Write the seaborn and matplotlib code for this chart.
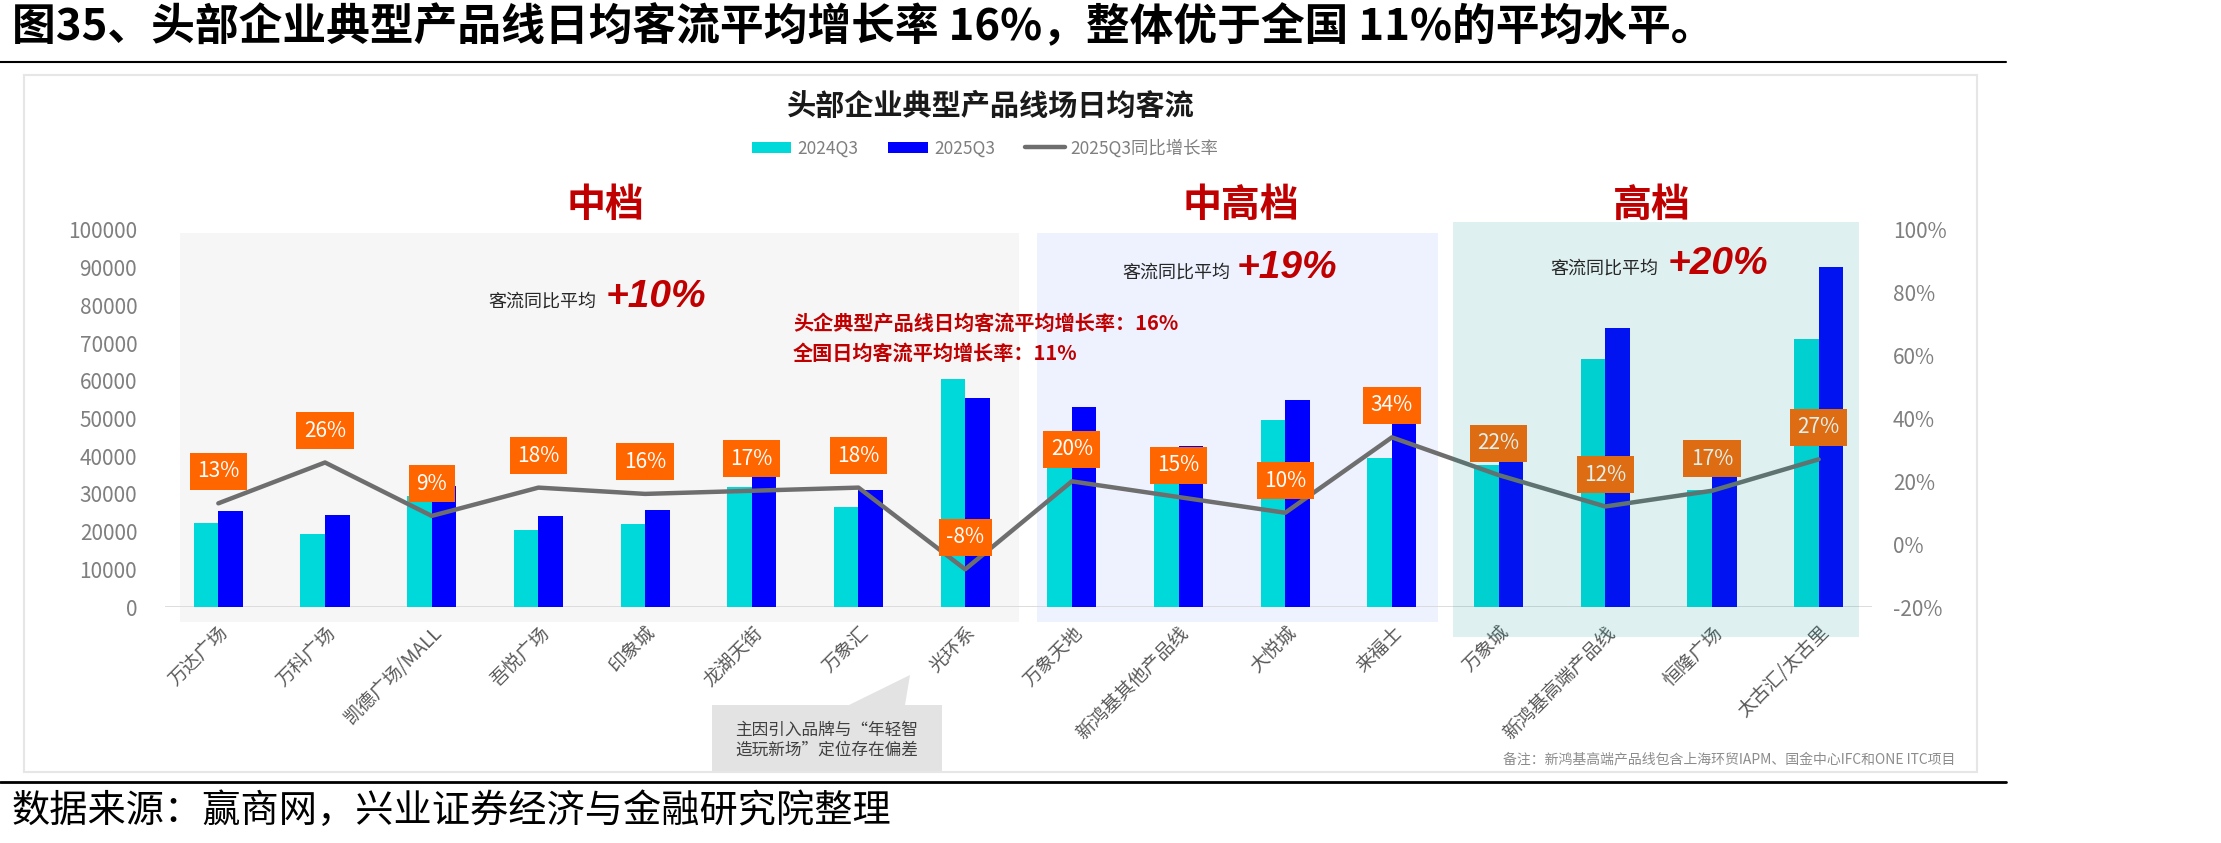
import matplotlib
matplotlib.use("Agg")
import matplotlib.pyplot as plt
import matplotlib.transforms as mtransforms
from matplotlib.patches import Rectangle, Polygon, Patch
from matplotlib.lines import Line2D
import seaborn as sns
import numpy as np
import pandas as pd

# ---- data ----
names = ['万达广场', '万科广场', '凯德广场/MALL', '吾悦广场', '印象城', '龙湖天街', '万象汇', '光环系',
         '万象天地', '新鸿基其他产品线', '大悦城', '来福士',
         '万象城', '新鸿基高端产品线', '恒隆广场', '太古汇/太古里']
flow_2024q3 = [22400, 19300, 29400, 20500, 22100, 31700, 26400, 60400,
               44200, 37100, 49600, 39400,
               37600, 65900, 31000, 71000]
flow_2025q3 = [25400, 24400, 32000, 24200, 25700, 37100, 31100, 55500,
               53000, 42700, 54900, 52700,
               45900, 74100, 36300, 90300]
growth = [13, 26, 9, 18, 16, 17, 18, -8, 20, 15, 10, 34, 22, 12, 17, 27]
periods = ['2024Q3', '2025Q3']
tiers = ['中档', '中高档', '高档']
tier_avg = ['+10%', '+19%', '+20%']

W, H = 2221, 843
CYAN, BLUE, GRAY_LINE, ORANGE, RED = '#00D9D9', '#0000FF', '#6E6E6E', '#FF6600', '#C00000'


def fx(x):
    return x / W


def fy(y):
    return 1 - y / H


sns.set_theme(style="white")
plt.rcParams['font.family'] = ['Noto Sans CJK SC', 'DejaVu Sans']

df = pd.DataFrame({
    'name': names * 2,
    'flow': flow_2024q3 + flow_2025q3,
    'period': [periods[0]] * len(names) + [periods[1]] * len(names),
})

fig = plt.figure(figsize=(W / 100, H / 100), dpi=100)
ax_top, ax_bot, ax_l, ax_r = 230, 607, 165, 1872
ax = fig.add_axes([fx(ax_l), fy(ax_bot), (ax_r - ax_l) / W, (ax_bot - ax_top) / H])


def ay(y):
    return (ax_bot - y) / (ax_bot - ax_top)


# tier background panels
blend = mtransforms.blended_transform_factory(ax.transData, ax.transAxes)
ax.add_patch(Rectangle((-0.36, ay(622)), 7.86, ay(233) - ay(622), transform=blend,
                       fc='#F6F6F6', ec='none', zorder=0, clip_on=False))
ax.add_patch(Rectangle((7.67, ay(622)), 3.76, ay(233) - ay(622), transform=blend,
                       fc='#EDF2FE', ec='none', zorder=0, clip_on=False))

sns.barplot(data=df, x='name', y='flow', hue='period', order=names, hue_order=periods,
            palette=[CYAN, BLUE], saturation=1, width=0.46, gap=0, linewidth=0,
            legend=False, ax=ax, zorder=2)

ax.axhline(0, color='#D9D9D9', lw=2, zorder=1)
ax.set_xlim(-0.5, len(names) - 0.5)
ax.set_ylim(0, 100000)
ax.set_yticks(range(0, 100001, 10000))
ax.set_xlabel('')
ax.set_ylabel('')
ax.tick_params(axis='y', length=0, pad=20, labelsize=15, labelcolor='#7F7F7F')
ax.tick_params(axis='x', length=0, pad=11, labelsize=13.5, labelcolor='#595959')
for lab in ax.get_xticklabels():
    lab.set_rotation(45)
    lab.set_ha('right')
    lab.set_va('top')
    lab.set_rotation_mode('anchor')
for s in ax.spines.values():
    s.set_visible(False)
ax.patch.set_alpha(0)

# growth line on right axis
ax2 = ax.twinx()
sns.lineplot(x=np.arange(len(names)), y=growth, ax=ax2, color=GRAY_LINE, lw=3.2, zorder=3)
ax2.set_ylim(-20, 100)
ax2.set_yticks(range(-20, 101, 20))
ax2.set_yticklabels([f'{v}%' for v in range(-20, 101, 20)])
ax2.tick_params(axis='y', length=0, pad=15, labelsize=15, labelcolor='#7F7F7F')
for s in ax2.spines.values():
    s.set_visible(False)

for i, g in enumerate(growth):
    ax2.annotate(f'{g}%', xy=(i, g), xytext=(0, 23), textcoords='offset points',
                 ha='center', va='center', color='white', fontsize=15, zorder=5,
                 bbox=dict(boxstyle='square,pad=0.36', fc=ORANGE, ec='none'))

# high tier: translucent teal panel drawn over the marks
blend2 = mtransforms.blended_transform_factory(ax2.transData, ax2.transAxes)
ax2.add_patch(Rectangle((11.57, ay(637)), 3.81, ay(222) - ay(637), transform=blend2,
                        fc='#00968C', alpha=0.13, ec='none', zorder=10, clip_on=False))

# tier headings and averages
for name, cx in zip(tiers, [605, 1241, 1652]):
    fig.text(fx(cx), fy(205), name, ha='center', va='center', fontsize=28,
             fontweight='bold', color=RED)
for avg, lx, bx, by in zip(tier_avg, [596, 1230, 1658], [606, 1237, 1668], [307, 278, 274]):
    fig.text(fx(lx), fy(by), '客流同比平均', ha='right', va='baseline', fontsize=13, color='#262626')
    fig.text(fx(bx), fy(by), avg, ha='left', va='baseline', fontsize=28, color=RED,
             family='Liberation Sans', fontweight='bold', style='italic')

fig.text(fx(793), fy(323), '头企典型产品线日均客流平均增长率：16%', ha='left', va='center',
         fontsize=14.5, fontweight='bold', color=RED)
fig.text(fx(793), fy(353), '全国日均客流平均增长率：11%', ha='left', va='center',
         fontsize=14.5, fontweight='bold', color=RED)

# chart title and legend
fig.text(fx(991), fy(106), '头部企业典型产品线场日均客流', ha='center', va='center',
         fontsize=21, fontweight='bold', color='#1A1A1A')
handles = [Patch(fc=CYAN, ec='none', label=periods[0]),
           Patch(fc=BLUE, ec='none', label=periods[1]),
           Line2D([], [], color=GRAY_LINE, lw=3.2, label='2025Q3同比增长率')]
leg = fig.legend(handles=handles, loc='center', bbox_to_anchor=(fx(985), fy(148)), ncol=3,
                 frameon=False, fontsize=12.5, handlelength=2.3, handleheight=0.6,
                 handletextpad=0.35, columnspacing=1.7)
for t in leg.get_texts():
    t.set_color('#7F7F7F')

# callout box under 光环系
callout = [(712, 772), (712, 705), (849, 705), (910, 675), (905, 705), (942, 705), (942, 772)]
fig.add_artist(Polygon([(fx(x), fy(y)) for x, y in callout], closed=True,
                       transform=fig.transFigure, fc='#E3E3E3', ec='none'))
fig.text(fx(827), fy(740), '主因引入品牌与“年轻智\n造玩新场”定位存在偏差', ha='center', va='center',
         fontsize=12, color='#404040', linespacing=1.25)

fig.text(fx(1955), fy(759), '备注：新鸿基高端产品线包含上海环贸IAPM、国金中心IFC和ONE ITC项目',
         ha='right', va='center', fontsize=10, color='#8C8C8C')

# outer frame of the chart image
fig.add_artist(Rectangle((fx(24), fy(772)), (1977 - 24) / W, (772 - 75) / H,
                         transform=fig.transFigure, fill=False, ec='#E6E6E6', lw=1.5))

# report figure title, rules and source
fig.text(fx(12), fy(27), '图35、头部企业典型产品线日均客流平均增长率 16%，整体优于全国 11%的平均水平。',
         ha='left', va='center', fontsize=31.5, fontweight='bold', color='black')
fig.add_artist(Line2D([0, fx(2006)], [fy(62), fy(62)], color='black', lw=1.5,
                      transform=fig.transFigure))
fig.add_artist(Line2D([0, fx(2006)], [fy(782), fy(782)], color='black', lw=2,
                      transform=fig.transFigure))
fig.text(fx(12), fy(811), '数据来源：赢商网，兴业证券经济与金融研究院整理', ha='left', va='center',
         fontsize=27.5, color='black')

fig.savefig('out.png', dpi=100)
plt.close(fig)
